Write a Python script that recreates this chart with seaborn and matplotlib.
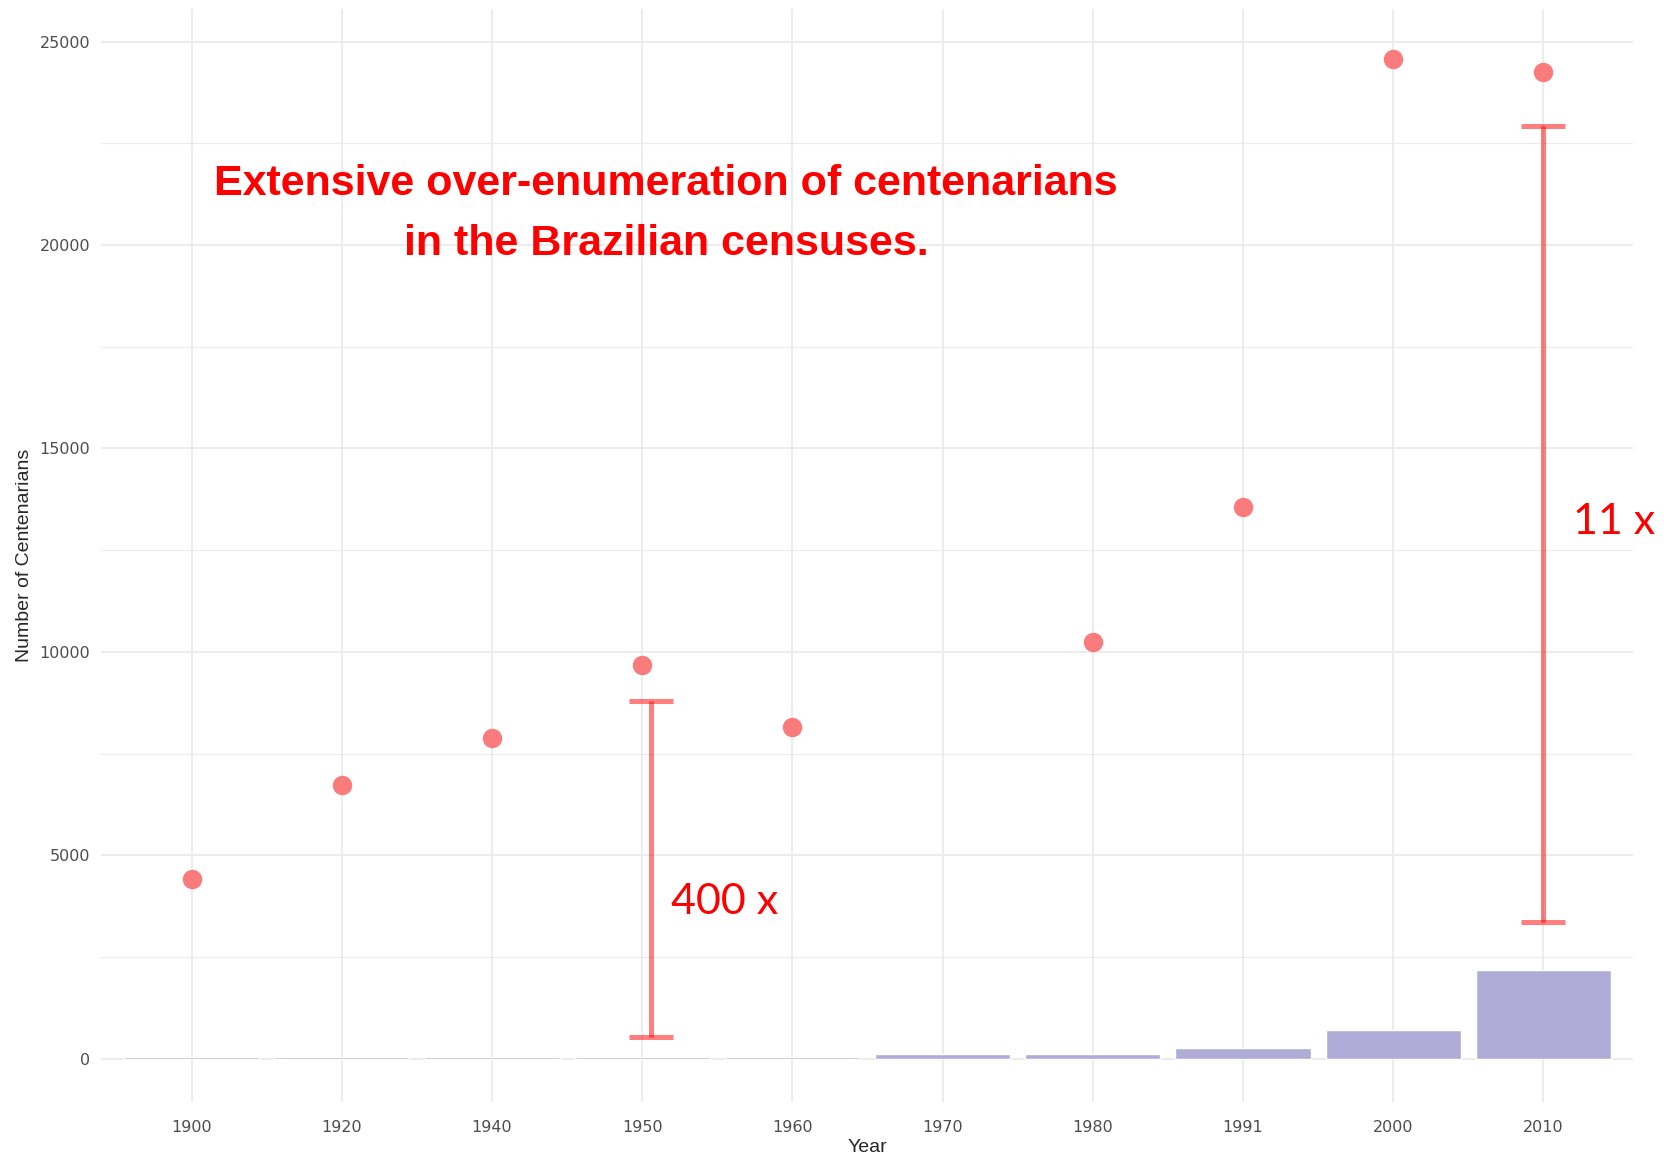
import pandas as pd
import numpy as np
from matplotlib import pyplot as plt
from matplotlib.ticker import MultipleLocator
import seaborn as sns

years = ["1900", "1920", "1940", "1950", "1960", "1970", "1980", "1991", "2000", "2010"]
# validated centenarians (bars) and census counts (points)
validated = [40, 40, 57, 55, 57, 113, 113, 260, 720, 2177]
census = [4420, 6720, 7895, 9675, 8160, np.nan, 10250, 13570, 24580, 24240]

# annotation ranges: (x position, low, high) and label placement
ann_1950 = (3.06, 550, 8790)
ann_2010 = (9.0, 3370, 22935)
labels = [("400 x", 3.19, 3850), ("11 x", 9.2, 13200)]

df = pd.DataFrame({"Year": years, "validated": validated, "census": census})

sns.set_style("white")
fig = plt.figure(figsize=(16.69, 11.56), dpi=100)
ax = fig.add_axes([0.0608, 0.047, 0.9179, 0.9456])

sns.barplot(data=df, x="Year", y="validated", order=years, color="#afacd8",
            saturation=1, width=0.9, ax=ax, zorder=2)
sns.stripplot(data=df, x="Year", y="census", order=years, jitter=False,
              color="#fa7b7b", size=14, linewidth=0, ax=ax, zorder=3)

for xpos, lo, hi in [ann_1950, ann_2010]:
    ax.errorbar([xpos], [(lo + hi) / 2], yerr=[[(hi - lo) / 2], [(hi - lo) / 2]],
                fmt="none", ecolor="red", alpha=0.5, elinewidth=3.6,
                capsize=16, capthick=3.6, zorder=4)
for lab, lx, ly in labels:
    ax.text(lx, ly, lab, color="red", fontsize=31, family=["Lato", "DejaVu Sans"],
            ha="left", va="center", clip_on=False)

ax.text(3.16, 20760, "Extensive over-enumeration of centenarians\nin the Brazilian censuses.",
        color="red", fontsize=31, fontweight="bold", ha="center", va="center",
        linespacing=1.65, family=["Liberation Sans", "DejaVu Sans"])

ax.set_xlim(-0.6, 9.6)
ax.set_ylim(-1050, 25810)
ax.yaxis.set_major_locator(MultipleLocator(5000))
ax.yaxis.set_minor_locator(MultipleLocator(2500))
ax.grid(True, which="major", color="#ebebeb", lw=1.3, zorder=0)
ax.grid(True, which="minor", axis="y", color="#ebebeb", lw=0.8, zorder=0)
ax.set_axisbelow(True)
for s in ax.spines.values():
    s.set_visible(False)
ax.tick_params(length=0, labelsize=11.5, labelcolor="#4d4d4d", pad=8)
ax.tick_params(axis="x", pad=13)
ax.set_xlabel("Year", fontsize=14, labelpad=3, family=["Liberation Sans", "DejaVu Sans"])
ax.set_ylabel("Number of Centenarians", fontsize=14, labelpad=5,
              family=["Liberation Sans", "DejaVu Sans"])

fig.savefig("out.png", dpi=100)
